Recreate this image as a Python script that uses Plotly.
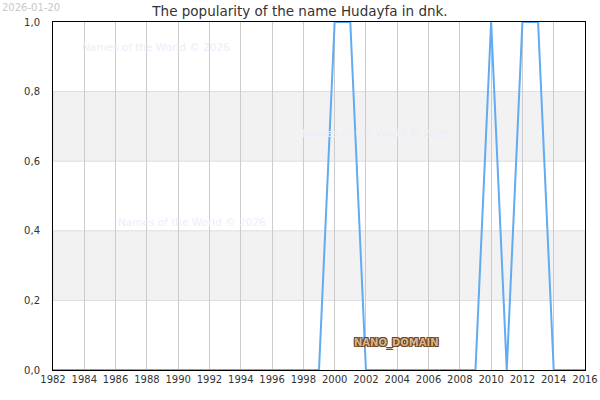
import plotly.graph_objects as go

years = list(range(1982, 2017))
popularity = [0, 0, 0, 0, 0, 0, 0, 0, 0, 0,
              0, 0, 0, 0, 0, 0, 0, 0, 1, 1,
              0, 0, 0, 0, 0, 0, 0, 0, 1, 0,
              1, 1, 0, 0, 0]
x_ticks = list(range(1982, 2017, 2))
y_ticks = [0, 0.2, 0.4, 0.6, 0.8, 1.0]
bands = [(0.2, 0.4), (0.6, 0.8)]

fig = go.Figure()
fig.add_trace(go.Scatter(
    x=years, y=popularity, mode="lines",
    line=dict(color="#60abf2", width=2),
    hoverinfo="x+y"))

# grey bands
for y0, y1 in bands:
    fig.add_shape(type="rect", xref="paper", yref="y", x0=0, x1=1, y0=y0, y1=y1,
                  fillcolor="#f2f2f2", line=dict(color="#dddddd", width=1), layer="below")

# watermarks
for wx, wy in [(0.051, 0.928), (0.464, 0.681), (0.118, 0.425)]:
    fig.add_annotation(x=wx, y=wy, xref="paper", yref="paper", xanchor="left", yanchor="middle",
                       text="Names of the World © 2026", showarrow=False,
                       font=dict(size=10.5, color="#ededfb", family="DejaVu Sans"))

fig.add_annotation(x=0.645, y=0.054, xref="paper", yref="paper", text="<b>NANO_DOMAIN</b>",
                   showarrow=False,
                   font=dict(size=10, color="#d9b48a", family="DejaVu Sans",
                             shadow="-1px -1px 0 #6b4420, 1px -1px 0 #6b4420, -1px 1px 0 #6b4420, 1px 1px 0 #6b4420"))

fig.add_annotation(x=0, y=1, xref="paper", yref="paper", xanchor="left", yanchor="top",
                   xshift=-53, yshift=22, text="2026-01-20", showarrow=False,
                   font=dict(size=10, color="#c8c8c8", family="DejaVu Sans"))

fig.update_layout(
    width=600, height=400,
    margin=dict(l=53, r=15, t=22, b=30, autoexpand=False),
    paper_bgcolor="white", plot_bgcolor="white",
    separators=",.",
    showlegend=False,
    title=dict(text="The popularity of the name Hudayfa in dnk.", x=0.5, xanchor="center",
               xref="container", y=0.973, yanchor="middle",
               font=dict(size=13.5, color="#333333", family="DejaVu Sans")),
    font=dict(family="DejaVu Sans", size=10, color="#333333"),
)
fig.update_xaxes(range=[1982, 2016], tickvals=x_ticks, showgrid=True, gridcolor="#cccccc",
                 gridwidth=1, showline=True, linecolor="black", linewidth=1, mirror=True,
                 zeroline=False, ticks="", automargin=False, tickfont=dict(size=10))
fig.update_yaxes(range=[0, 1], tickvals=y_ticks, tickformat=".1f", showgrid=False,
                 showline=True, linecolor="black", linewidth=1, mirror=True,
                 zeroline=False, ticks="", automargin=False, ticklabelstandoff=10,
                 tickfont=dict(size=10))

fig.write_html("out.html", config={"displayModeBar": False},
               post_script="document.body.style.margin='0';")
